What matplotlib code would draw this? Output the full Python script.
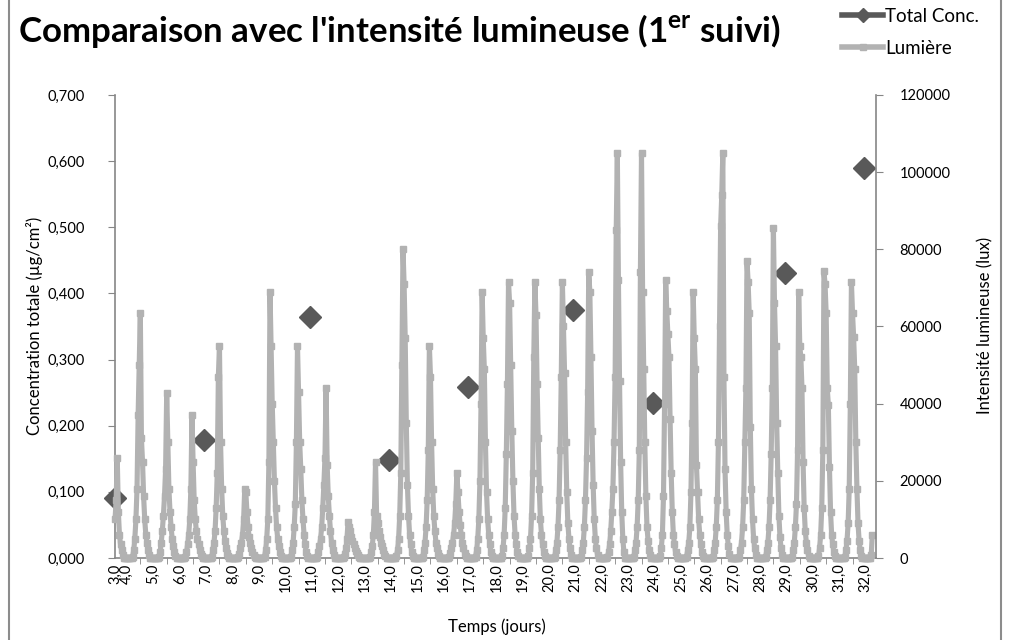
import matplotlib
matplotlib.use("Agg")
import matplotlib.pyplot as plt
from matplotlib.lines import Line2D

plt.rcParams['font.family'] = ['Lato', 'DejaVu Sans']
plt.rcParams['mathtext.fontset'] = 'custom'
plt.rcParams['mathtext.rm'] = 'Lato'
plt.rcParams['mathtext.bf'] = 'Lato:bold'

# ---- data -------------------------------------------------------------
# Total concentration samples (time in days, µg/cm²)
conc_days = [3.55, 6.93, 10.95, 13.94, 16.93, 20.91, 23.94, 28.94, 31.93]
conc_values = [0.091, 0.178, 0.364, 0.148, 0.258, 0.375, 0.234, 0.431, 0.590]

# Hourly light intensity, in thousands of lux
first_day = 3
first_day_hours = list(range(13, 24))
first_day_lux_k = [10, 15, 26, 12, 6, 3.5, 2, 0.8, 0, 0, 0]

daylight_hours = list(range(5, 22))          # 5 h .. 21 h, zero otherwise
full_days = list(range(4, 32))
daylight_lux_k = [
    [0.3, 2, 5, 10, 18, 37, 50, 63.5, 31, 25, 16, 10, 6, 4, 2, 0.8, 0],       # 4
    [0.3, 1.5, 4, 7, 11, 16, 23, 42.8, 30, 18, 12, 8, 5, 3, 1.5, 0.5, 0],     # 5
    [0.3, 1.5, 3.5, 6, 10, 18, 37, 25, 15, 10, 7, 5, 3.5, 2, 1, 0.4, 0],      # 6
    [0.3, 2, 4, 7, 13, 22, 47, 55, 30, 18, 11, 7, 4.5, 2.5, 1.2, 0.4, 0],     # 7
    [0.2, 1, 2.5, 4, 6, 10, 18, 17, 12, 8, 5.5, 4, 2.5, 1.5, 0.7, 0.3, 0],    # 8
    [0.3, 2, 5, 10, 25, 69, 55, 40, 30, 20, 13, 8, 5, 3, 1.5, 0.5, 0],        # 9
    [0.3, 2, 4, 8, 14, 30, 55, 43, 30, 23, 15, 10, 6, 3.5, 1.5, 0.5, 0],      # 10
    [0.3, 1.5, 3, 5, 8, 13, 19, 26, 44, 24, 16, 11, 7, 4, 2, 0.7, 0],         # 11
    [0.2, 1, 2.5, 5, 9.3, 8, 7, 5.5, 4.5, 3.5, 2.5, 1.8, 1.2, 0.7, 0.3, 0, 0],  # 12
    [0.3, 1.5, 3, 6, 12, 25, 11, 9, 7, 5.5, 4, 3, 2, 1, 0.4, 0, 0],           # 13
    [0.4, 2, 5, 11, 22, 50, 80, 71, 57, 35, 19, 11, 6, 3.5, 1.5, 0.5, 0],     # 14
    [0.3, 2, 4, 8, 15, 28, 55, 47, 30, 18, 11, 7, 4, 2.5, 1.2, 0.4, 0],       # 15
    [0.2, 1.2, 2.5, 4, 6, 9, 14, 22, 17, 12, 8.5, 6, 4, 2.5, 1.2, 0.4, 0],    # 16
    [0.3, 2, 5, 10, 20, 40, 69, 57, 49, 30, 17, 10, 6, 3.5, 1.5, 0.5, 0],     # 17
    [0.4, 2.5, 6, 13, 27, 45, 71.5, 66, 50, 33, 20, 11, 6, 3.5, 1.5, 0.5, 0], # 18
    [0.4, 2.5, 5, 11, 22, 52, 71.5, 63, 45, 31, 18, 10, 6, 3.5, 1.5, 0.5, 0], # 19
    [0.3, 2, 4, 8, 15, 28, 47, 71.5, 60, 48, 30, 17, 9, 5, 2.5, 0.8, 0],      # 20
    [0.3, 2, 4, 8, 15, 26, 43, 74, 69, 52, 33, 19, 10, 5, 2.5, 0.8, 0],       # 21
    [0.3, 1.5, 3.5, 7, 12, 18, 30, 47, 85, 105, 72, 46, 25, 12, 5, 1.5, 0],   # 22
    [0.3, 2, 4, 8, 15, 28, 74, 105, 69, 49, 30, 16, 8, 4.5, 2, 0.7, 0],       # 23
    [0.4, 2.5, 6, 16, 40, 72, 64, 58, 52, 36, 22, 12, 6, 3.5, 1.5, 0.5, 0],   # 24
    [0.3, 2, 4, 8, 17, 35, 69, 57, 49, 24, 17, 10, 6, 3.5, 1.5, 0.5, 0],      # 25
    [0.3, 2, 4, 8, 15, 30, 60, 86, 94, 105, 47, 23, 12, 6, 3, 1, 0],          # 26
    [0.3, 2, 4, 8, 15, 30, 44, 77, 71.5, 63.5, 34, 18, 10, 5, 2.5, 0.8, 0],   # 27
    [0.3, 2, 4, 8, 15, 27, 44, 85.5, 66, 55, 35, 22, 11, 5.5, 2.5, 0.8, 0],   # 28
    [0.3, 2, 4, 8, 14, 28, 69, 55, 52, 44, 25, 13, 7, 4, 2, 0.6, 0],          # 29
    [0.4, 2.5, 6, 13, 28, 74.4, 71, 63.5, 44, 39.7, 23.6, 12, 6, 3.5, 1.5, 0.5, 0],  # 30
    [0.3, 2, 4.5, 9, 18, 40, 71.5, 63.5, 57.3, 49, 30, 18, 9, 4.5, 2, 0.6, 0],       # 31
]
last_day = 32
last_day_hours = list(range(0, 7))
last_day_lux_k = [0, 0, 0, 0, 0, 0.8, 6]

# axis scales and tick labels
conc_ticks = [0.0, 0.1, 0.2, 0.3, 0.4, 0.5, 0.6, 0.7]
lux_ticks = [0, 20000, 40000, 60000, 80000, 100000, 120000]
day_ticks = list(range(4, 33))
time_limits = (3.54, 32.39)

# ---- assemble the light time series -------------------------------------
light_t, light_v = [], []
for h, val in zip(first_day_hours, first_day_lux_k):
    light_t.append(first_day + h / 24)
    light_v.append(val * 1000)
for d, row in zip(full_days, daylight_lux_k):
    by_hour = dict(zip(daylight_hours, row))
    for h in range(24):
        light_t.append(d + h / 24)
        light_v.append(by_hour.get(h, 0) * 1000)
for h, val in zip(last_day_hours, last_day_lux_k):
    light_t.append(last_day + h / 24)
    light_v.append(val * 1000)

# ---- figure ------------------------------------------------------------
W, H = 1010, 640
fig = plt.figure(figsize=(W / 100, H / 100), dpi=100)
fig.patch.set_facecolor('white')

axis_grey = '#868686'
light_grey = '#b2b2b2'
dark_grey = '#595959'

ax = fig.add_axes([115 / W, 82 / H, 761 / W, 463 / H])
ax2 = ax.twinx()

# concentration (primary axis)
ax.plot(conc_days, conc_values, linestyle='none', marker='D', ms=11,
        color=dark_grey, clip_on=False, zorder=3)
ax.set_ylim(0, 0.7)
ax.set_yticks(conc_ticks)
ax.set_yticklabels([f"{v:.3f}".replace('.', ',') for v in conc_ticks])
ax.set_xlim(*time_limits)

# x ticks: labels on whole days, short marks between them
ax.set_xticks([time_limits[0]] + day_ticks)
ax.set_xticklabels(["3,0"] + [f"{d},0" for d in day_ticks], rotation=90)
ax.set_xticks([d + 0.5 for d in day_ticks[:-1]], minor=True)
ax.tick_params(axis='x', which='major', length=0, pad=4, labelsize=10.5)
ax.tick_params(axis='x', which='minor', length=4, color=axis_grey, direction='out')
ax.tick_params(axis='y', length=5, color=axis_grey, pad=17, labelsize=10.5)

for side in ('top', 'right'):
    ax.spines[side].set_visible(False)
for side in ('left', 'bottom'):
    ax.spines[side].set_color(axis_grey)
    ax.spines[side].set_linewidth(1.2)

# light intensity (secondary axis)
ax2.plot(light_t, light_v, color=light_grey, lw=3.7, marker='s', ms=4.6,
         mfc=light_grey, mec=light_grey, clip_on=False)
ax2.set_ylim(0, 120000)
ax2.set_yticks(lux_ticks)
ax2.set_yticklabels([str(v) for v in lux_ticks])
ax2.tick_params(axis='y', length=5, color=axis_grey, pad=12, labelsize=10.5)
for side in ('top', 'left', 'bottom'):
    ax2.spines[side].set_visible(False)
ax2.spines['right'].set_color(axis_grey)
ax2.spines['right'].set_linewidth(1.2)

# axis titles
fig.text(35 / W, 1 - 326 / H, "Concentration totale (µg/cm²)", rotation=90,
         ha='center', va='center', fontsize=12)
fig.text(985 / W, 1 - 325 / H, "Intensité lumineuse (lux)", rotation=90,
         ha='center', va='center', fontsize=12)
fig.text(497 / W, 1 - 627 / H, "Temps (jours)", ha='center', va='center',
         fontsize=12)

# chart title, sized to its box width
title = fig.text(18 / W, 1 - 42 / H,
                 "Comparaison avec l'intensité lumineuse (1$^{\\mathbf{er}}$ suivi)",
                 fontsize=26, fontweight='bold', ha='left', va='baseline')
renderer = fig.canvas.get_renderer()
tw = title.get_window_extent(renderer).width
title.set_fontsize(26 * 764 / tw)

# legend
handles = [
    Line2D([], [], color=dark_grey, lw=4, marker='D', ms=7),
    Line2D([], [], color=light_grey, lw=4, marker='s', ms=4.6),
]
fig.legend(handles, ["Total Conc.", "Lumière"], loc='upper left',
           bbox_to_anchor=(842 / W, 1 - 8 / H), frameon=False, fontsize=13.5,
           handlelength=2.2, handletextpad=0.1, labelspacing=0.78,
           borderpad=0, borderaxespad=0)

# chart border
for xpx in (9, 1001):
    fig.add_artist(Line2D([xpx / W, xpx / W], [0, 1], transform=fig.transFigure,
                          color='#8c8c8c', lw=1.5))

fig.savefig("out.png", dpi=100)
